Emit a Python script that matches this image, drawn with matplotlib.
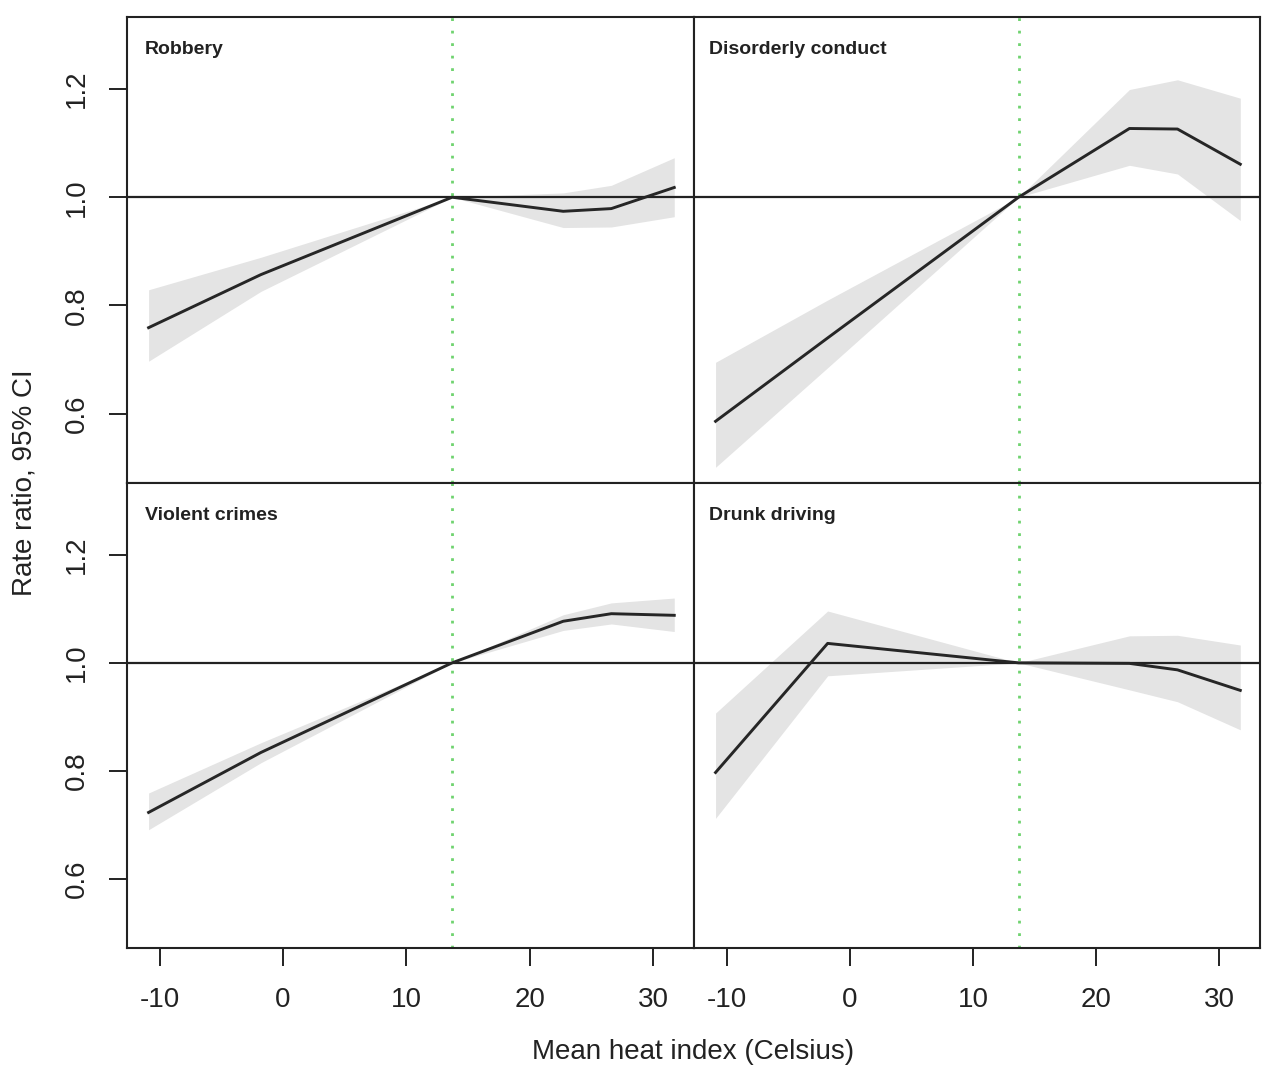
import numpy as np
import matplotlib.pyplot as plt

plt.rcParams['font.family'] = ['Liberation Sans', 'DejaVu Sans']

# knots of the heat index (Celsius)
heat_index = [-10.9, -1.8, 13.7, 22.7, 26.6, 31.7]
ref_temp = 13.7

titles = ['Robbery', 'Disorderly conduct', 'Violent crimes', 'Drunk driving']

robbery_rr = [0.759, 0.857, 1.0, 0.974, 0.979, 1.018]
robbery_lo = [0.697, 0.826, 1.0, 0.944, 0.945, 0.964]
robbery_hi = [0.829, 0.889, 1.0, 1.008, 1.022, 1.073]

disorderly_rr = [0.586, 0.740, 1.0, 1.127, 1.126, 1.061]
disorderly_lo = [0.501, 0.685, 1.0, 1.059, 1.043, 0.957]
disorderly_hi = [0.695, 0.810, 1.0, 1.199, 1.217, 1.183]

violent_rr = [0.723, 0.834, 1.0, 1.077, 1.091, 1.088]
violent_lo = [0.691, 0.815, 1.0, 1.060, 1.072, 1.058]
violent_hi = [0.759, 0.852, 1.0, 1.089, 1.111, 1.120]

drunk_rr = [0.797, 1.036, 1.0, 0.999, 0.987, 0.949]
drunk_lo = [0.712, 0.976, 1.0, 0.950, 0.928, 0.876]
drunk_hi = [0.907, 1.096, 1.0, 1.050, 1.051, 1.033]

series = [(robbery_rr, robbery_lo, robbery_hi),
          (disorderly_rr, disorderly_lo, disorderly_hi),
          (violent_rr, violent_lo, violent_hi),
          (drunk_rr, drunk_lo, drunk_hi)]

x_ticks = [-10, 0, 10, 20, 30]
y_ticks = [0.6, 0.8, 1.0, 1.2]

fig = plt.figure(figsize=(12.8, 10.86), dpi=100)

W, H = 1280, 1086
cols = [(127, 694), (694, 1260)]
rows = [(17, 483), (483, 948)]

for i, (rr, lo, hi) in enumerate(series):
    r, c = divmod(i, 2)
    x0, x1 = cols[c]
    y0, y1 = rows[r]
    ax = fig.add_axes([x0 / W, 1 - y1 / H, (x1 - x0) / W, (y1 - y0) / H])

    ax.fill_between(heat_index, lo, hi, color='#e4e4e4', lw=0, zorder=1)
    ax.axhline(1.0, color='#222222', lw=1.6, zorder=2)
    ax.axvline(ref_temp, color='#6fd36f', lw=2.0, ls=(0, (1, 3.5)), zorder=2)
    ax.plot(heat_index, rr, color='#262626', lw=2.1, zorder=3)

    ax.set_xlim(-12.65, 33.3)
    ax.set_ylim(0.472, 1.333)
    for s in ax.spines.values():
        s.set_linewidth(1.5)
        s.set_color('#222222')

    ax.text(0.032 if c == 0 else 0.027, 0.93, titles[i], transform=ax.transAxes,
            fontsize=14, fontweight='bold', color='#222222', va='center', ha='left')

    ax.set_xticks(x_ticks)
    ax.set_yticks(y_ticks)
    ax.tick_params(direction='out', length=13, width=1.4, color='#222222',
                   labelsize=20, labelcolor='#222222')
    ax.tick_params(axis='x', pad=15)
    ax.tick_params(axis='y', pad=14)
    if c == 0:
        ax.set_yticklabels(['0.6', '0.8', '1.0', '1.2'], rotation=90, va='center')
    else:
        ax.tick_params(axis='y', left=False, labelleft=False)
    if r == 0:
        ax.tick_params(axis='x', bottom=False, labelbottom=False)
    else:
        ax.set_xticklabels(['-10', '0', '10', '20', '30'])

fig.text(693 / W, 1 - 1052 / H, 'Mean heat index (Celsius)', fontsize=20,
         color='#222222', ha='center', va='center')
fig.text(25 / W, 1 - 483 / H, 'Rate ratio, 95% CI', fontsize=20, rotation=90,
         color='#222222', ha='center', va='center')

fig.savefig('out.png', dpi=100)
